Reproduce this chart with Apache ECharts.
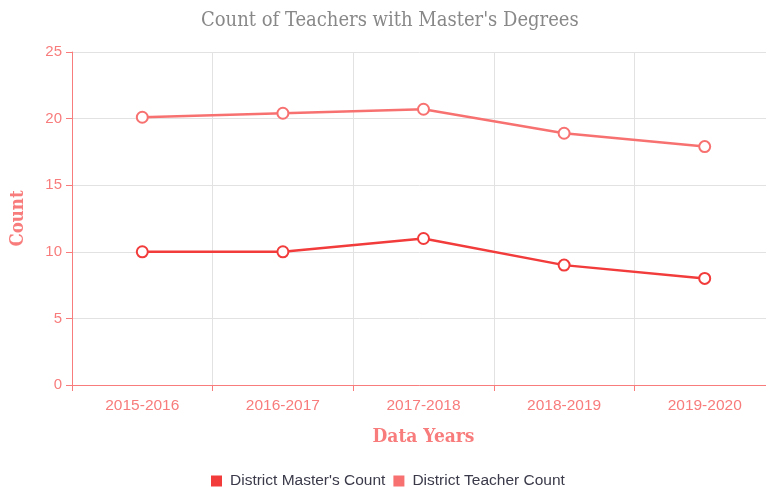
<!DOCTYPE html>
<html>
<head>
<meta charset="utf-8">
<script src="https://cdn.jsdelivr.net/npm/echarts@6/dist/echarts.min.js"></script>
<style>
  html, body { margin: 0; padding: 0; background: #fff; }
  #chart { width: 766px; height: 490px; }
</style>
</head>
<body>
<div id="chart"></div>
<script>
// data
const years = ["2015-2016", "2016-2017", "2017-2018", "2018-2019", "2019-2020"];
const mastersCount = [10, 10, 11, 9, 8];
const teacherCount = [20.1, 20.4, 20.7, 18.9, 17.9];

const axisPink = "#f87c7c";
const serif = "'DejaVu Serif Condensed', 'DejaVu Serif', serif";
const sans = "'Liberation Sans', Arial, sans-serif";

const myChart = echarts.init(document.getElementById("chart"), null, { renderer: "canvas" });

function lineSeries(name, data, color) {
  return {
    name: name,
    type: "line",
    data: data,
    symbol: "emptyCircle",
    symbolSize: 11,
    lineStyle: { width: 2.5, color: color },
    itemStyle: { color: color, borderWidth: 3, borderColor: color },
    z: 3
  };
}

myChart.setOption({
  animation: false,
  title: {
    text: "Count of Teachers with Master's Degrees",
    left: 196,
    top: 6,
    textStyle: { fontFamily: serif, fontSize: 20, fontWeight: "normal", color: "#888" }
  },
  color: ["#f23b3b", "#f87171"],
  legend: {
    top: 468,
    left: 206,
    icon: "rect",
    itemWidth: 9,
    itemHeight: 9,
    itemGap: 8,
    textStyle: { fontFamily: sans, fontSize: 15.5, color: "#3a3a4a", padding: [0, 0, 0, 4] },
    data: ["District Master's Count", "District Teacher Count"]
  },
  grid: { left: 72, width: 703, top: 52, bottom: 105, outerBoundsMode: "none", containLabel: false },
  xAxis: {
    type: "category",
    data: years,
    boundaryGap: true,
    name: "Data Years",
    nameLocation: "middle",
    nameGap: 43,
    nameTextStyle: { fontFamily: serif, fontSize: 19, fontWeight: "bold", color: axisPink },
    axisLine: { lineStyle: { color: axisPink, width: 1 } },
    axisTick: { show: true, alignWithLabel: false, length: 6, lineStyle: { color: axisPink } },
    axisLabel: { color: axisPink, fontFamily: sans, fontSize: 15.5, margin: 13 },
    splitLine: { show: true, lineStyle: { color: "#e2e2e2" } }
  },
  yAxis: {
    type: "value",
    min: 0,
    max: 25,
    interval: 5,
    name: "Count",
    nameLocation: "middle",
    nameGap: 44,
    nameTextStyle: { fontFamily: serif, fontSize: 18.5, fontWeight: "bold", color: axisPink },
    axisLine: { show: true, lineStyle: { color: axisPink, width: 1 } },
    axisTick: { show: true, length: 6, lineStyle: { color: axisPink } },
    axisLabel: { color: axisPink, fontFamily: sans, fontSize: 15, margin: 10 },
    splitLine: { show: true, lineStyle: { color: "#e2e2e2" } }
  },
  series: [
    lineSeries("District Master's Count", mastersCount, "#f23b3b"),
    lineSeries("District Teacher Count", teacherCount, "#f87171")
  ]
});
</script>
</body>
</html>
